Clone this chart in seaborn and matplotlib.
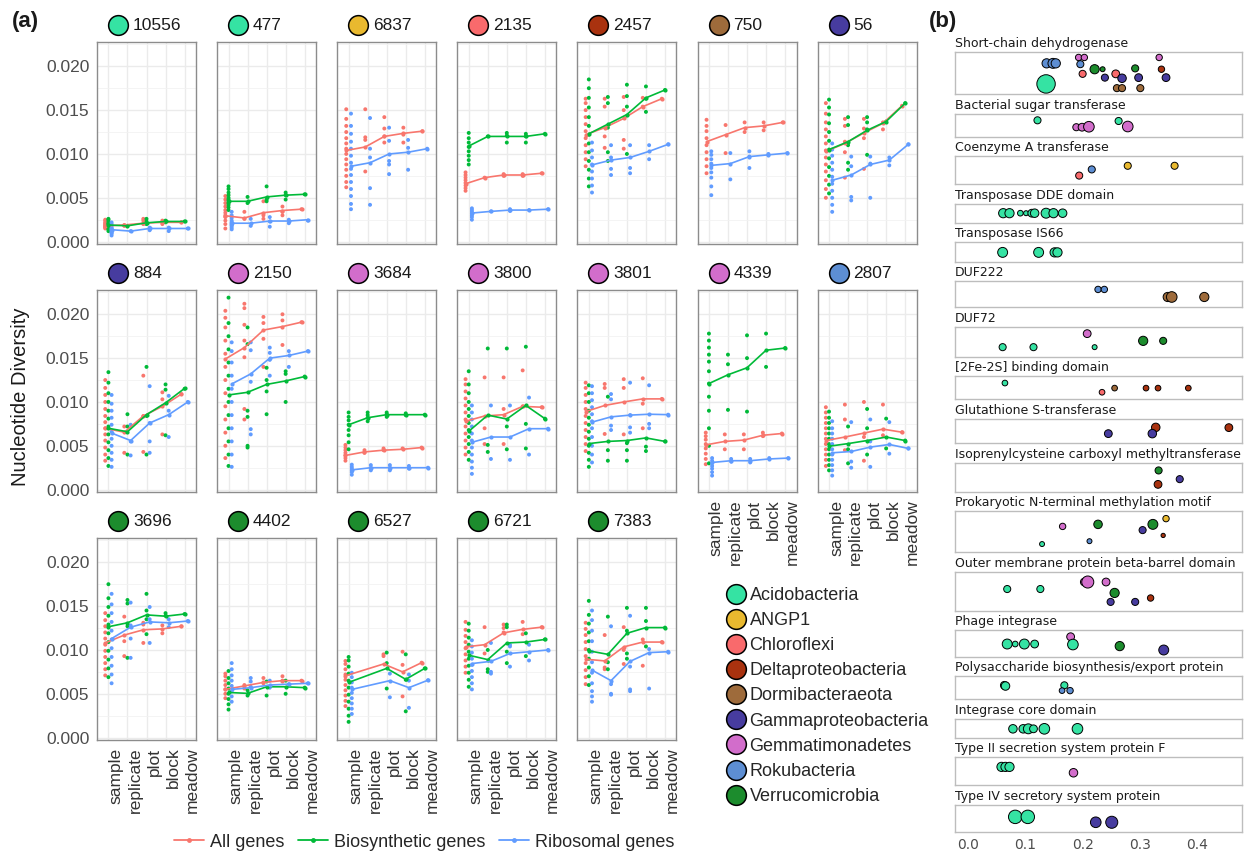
import matplotlib
matplotlib.use("Agg")
import matplotlib.pyplot as plt
from matplotlib.lines import Line2D
import numpy as np
import pandas as pd
import seaborn as sns

# ---------------- data: panel (a) ----------------
LEVELS = ["sample", "replicate", "plot", "block", "meadow"]
SERIES = ["All genes", "Biosynthetic genes", "Ribosomal genes"]
SERIES_COLORS = ["#F8766D", "#00BA38", "#619CFF"]

TAXA = ["Acidobacteria", "ANGP1", "Chloroflexi", "Deltaproteobacteria",
        "Dormibacteraeota", "Gammaproteobacteria", "Gemmatimonadetes",
        "Rokubacteria", "Verrucomicrobia"]
TAXA_COLORS = ["#35E3A3", "#E9B92F", "#F96A6C", "#A9320F", "#9E6B3B",
               "#473C9F", "#D26DCB", "#5D8ED3", "#1C8C2D"]

PANELS = ["10556", "477", "6837", "2135", "2457", "750", "56",
          "884", "2150", "3684", "3800", "3801", "4339", "2807",
          "3696", "4402", "6527", "6721", "7383"]
PANEL_TAXA = ["Acidobacteria", "Acidobacteria", "ANGP1", "Chloroflexi",
              "Deltaproteobacteria", "Dormibacteraeota", "Gammaproteobacteria",
              "Gammaproteobacteria", "Gemmatimonadetes", "Gemmatimonadetes",
              "Gemmatimonadetes", "Gemmatimonadetes", "Gemmatimonadetes",
              "Rokubacteria", "Verrucomicrobia", "Verrucomicrobia",
              "Verrucomicrobia", "Verrucomicrobia", "Verrucomicrobia"]

# mean nucleotide diversity (x 1e-3) per level: sample, replicate, plot, block, meadow
ALL_MEAN = [
    [1.8, 1.9, 2.1, 2.2, 2.2], [2.95, 2.7, 3.3, 3.55, 3.7],
    [10.4, 10.8, 12.0, 12.35, 12.6], [6.6, 7.3, 7.6, 7.6, 7.8],
    [12.2, 13.0, 14.05, 15.4, 16.3], [11.4, 12.2, 13.0, 13.2, 13.6],
    [10.3, 11.2, 12.4, 13.5, 15.5], [7.0, 6.55, 8.4, 9.5, 10.9],
    [14.9, 16.2, 18.2, 18.6, 19.1], [3.9, 4.3, 4.5, 4.6, 4.8],
    [7.8, 8.4, 8.55, 9.5, 9.4], [8.9, 9.6, 10.0, 10.35, 10.35],
    [5.1, 5.5, 5.65, 6.2, 6.4], [5.6, 6.0, 6.45, 6.9, 6.55],
    [10.8, 11.7, 12.3, 12.4, 12.7], [5.5, 5.9, 6.3, 6.5, 6.5],
    [7.05, None, 8.4, 7.5, 8.55], [10.35, 10.6, 11.95, 12.35, 12.6],
    [8.95, 8.75, 10.35, 10.9, 10.9],
]
BIO_MEAN = [
    [1.9, 1.8, 2.15, 2.3, 2.3], [4.6, 4.6, 5.1, 5.3, 5.4],
    None, [10.9, 12.0, 12.0, 12.0, 12.3],
    [12.3, 13.4, 14.5, 16.4, 17.3], None,
    [10.5, 11.4, 12.7, 13.7, 15.8], [7.0, 6.6, 8.55, 9.9, 11.55],
    [10.8, 11.1, 12.0, 12.4, 12.9], [7.4, 8.2, 8.55, 8.55, 8.55],
    [6.65, 8.5, 8.05, 9.6, 8.1], [5.25, 5.5, 5.6, 5.9, 5.5],
    [12.1, 13.1, 13.9, 15.9, 16.15], [4.95, 5.25, 5.6, 6.0, 5.6],
    [12.65, 13.1, 14.0, 13.85, 14.1], [5.15, 5.05, 5.8, 5.8, 5.7],
    [6.3, None, 7.9, 6.65, 7.9], [9.4, 8.9, 10.8, 10.9, 11.2],
    [9.9, 9.5, 11.9, 12.55, 12.55],
]
RIB_MEAN = [
    [1.36, 1.2, 1.5, 1.5, 1.5], [2.1, 2.1, 2.35, 2.35, 2.5],
    [8.6, 9.0, 10.0, 10.2, 10.6], [3.26, 3.45, 3.6, 3.6, 3.7],
    [8.75, 9.3, 9.6, 10.3, 11.1], [8.7, 8.9, 9.7, 9.9, 10.1],
    [7.0, 7.6, 8.8, 9.3, 11.1], [6.45, 5.6, 7.6, 8.55, 10.0],
    [12.05, 13.2, 15.0, 15.3, 15.8], [2.25, 2.5, 2.5, 2.5, 2.5],
    [5.4, 6.0, 6.0, 6.95, 6.95], [7.7, 8.3, 8.5, 8.6, 8.55],
    [3.1, 3.3, 3.3, 3.5, 3.6], [4.2, 4.35, 4.85, 5.15, 4.7],
    [11.3, 12.6, 13.2, 13.1, 13.3], [5.5, 5.7, 6.0, 6.1, 6.2],
    [5.5, None, 6.5, 5.7, 6.55], [8.45, 8.7, 9.6, 9.8, 10.0],
    [7.7, 6.5, 8.7, 9.7, 9.8],
]

# individual values (x 1e-3), levels separated by "|"
ALL_PTS = [
    "1.5 1.6 1.7 1.8 1.9 2.0 2.1 2.2 2.4 2.5|1.9 1.8|2.6 2.4 2.0|2.4 2.2 2.0|2.2",
    "1.5 2.0 2.4 2.8 3.0 3.3 3.6 4.0 4.4 4.8 5.2|3.4 2.6|3.0 2.6 4.6|4.0 3.0 3.4|3.7",
    "6.2 6.8 7.5 8.2 8.8 9.4 10.0 10.6 11.2 11.8 12.5 13.2 14.0 15.1|15.1 11.6 11.9 8.0|14.2 12.9 12.0 11.3|13.0 12.2 11.3|12.6",
    "5.8 6.1 6.4 6.7 7.0 7.3 7.6 7.9|7.3|7.7 7.5|7.7 7.5|7.8",
    "8.6 9.4 10.2 11.0 11.8 12.6 13.4 14.2 15.0 15.8 16.3|16.3 15.4 12.0 10.7|16.5 15.0 11.6 10.6|16.4 15.4|16.3",
    "7.8 8.6 9.4 10.2 11.0 11.8 12.6 13.2 13.9|13.3 10.1|13.6 12.5|13.6 12.7|13.6",
    "5.0 6.0 7.0 8.0 8.8 9.6 10.4 11.2 12.0 12.8 13.6 14.6 15.8|14.0 13.2 11.4 10.2 7.3|14.0 12.9 11.8 8.3|13.6 12.8|15.5",
    "3.3 4.0 4.8 5.6 6.3 7.0 7.7 8.4 9.2 10.0 10.8 11.6 12.5|7.2 4.2|13.0 8.4 4.3|11.1 10.3 6.3|10.9",
    "3.6 5.0 6.5 8.0 9.5 11.0 12.5 14.0 15.5 17.0 18.5 19.6 20.4|21.2 20.7 18.8 17.0 15.1 9.2 8.0|19.7 19.0 17.2 14.0|20.0 19.3 16.5|19.1",
    "3.3 3.6 3.9 4.2 4.5 4.8 5.1|4.5 4.2|4.7 4.5|4.7|4.8",
    "4.0 4.8 5.6 6.4 7.2 8.0 8.8 9.6 10.4 11.2 12.0 12.6|12.8 7.0 5.2|12.8 9.2 5.2|13.6 9.5|9.4",
    "4.4 5.2 6.0 6.8 7.6 8.4 9.2 10.0 10.8 11.6 12.2|12.05 11.6 6.35|12.6 11.6 6.3|12.7 9.8 7.0|10.35",
    "2.9 3.5 4.1 4.7 5.2 5.7 6.1 6.5|6.3 4.6|6.3 4.6|6.5 6.1|6.4",
    "2.7 3.4 4.0 4.6 5.2 5.8 6.4 7.0 7.6 8.2 8.8 9.4|9.7 8.0 4.5|10.0 6.0 3.3|9.7 6.2|6.55",
    "7.1 7.8 8.5 9.2 9.9 10.6 11.3 12.0 12.7 13.4 14.2|13.8 11.0 9.3|13.1 12.9 10.8|12.8 11.9|12.7",
    "4.5 5.0 5.5 6.0 6.5 7.0 7.3|6.0 5.6|6.8 6.2|7.0 6.5|6.5",
    "3.6 4.2 4.8 5.4 6.0 6.6 7.2 7.8 8.4 8.75||9.5 9.3|9.8 8.3 4.7|8.55",
    "7.4 8.1 8.8 9.5 10.2 10.9 11.6 12.3 13.2|12.6 9.6|12.9 12.5 12.0|13.2 11.8|12.6",
    "6.1 6.9 7.7 8.5 9.3 10.1 10.9 11.7 12.4 13.1|11.7 8.0 7.8|12.6 10.0 8.4|11.2 8.2|10.9",
]
BIO_PTS = [
    "1.2 1.4 1.5 1.7 1.8 1.9 2.0 2.1 2.3 2.5 2.6|1.8|2.6 2.3 2.0|2.4 2.2|2.3",
    "3.6 3.9 4.2 4.4 4.6 4.8 5.0 5.3 5.6 6.0 6.3|5.1 4.4|6.3 4.8 4.6|5.6 4.8 5.3|5.4",
    "",
    "8.8 9.3 9.8 10.3 10.8 11.3 11.8 12.4|12.0|12.4 12.1 11.3|12.3 12.0 11.3|12.3",
    "6.3 7.2 8.2 9.2 10.2 11.2 12.2 13.2 14.2 15.3 16.4 17.5 18.5|16.5 15.8 13.0 10.2 9.2|17.9 16.6 15.4 10.0|17.7 16.3 14.8|17.3",
    "",
    "5.5 6.5 7.5 8.5 9.5 10.5 11.5 12.5 13.5 14.5 15.3 16.2|14.2 13.3 11.0 8.2 9.0|14.2 13.6 12.8 9.9|13.7|15.8",
    "2.7 3.6 4.5 5.4 6.3 7.2 8.1 9.0 10.0 11.0 12.2 13.4|8.6 7.2 4.0|14.0 8.4 4.0|12.0 11.4 6.2|11.5",
    "2.7 4.0 5.5 7.0 8.5 10.0 11.5 13.0 14.5 16.0 17.5 19.0 21.9|18.5 16.6 9.0 8.3 5.0 4.8|13.9 12.5 11.2 8.6|13.5 13.2 10.0|12.9",
    "4.6 5.4 6.2 6.8 7.4 7.9 8.3 8.8|8.8 8.5 8.2 7.8|8.8 8.6 8.3|8.7 8.5|8.55",
    "3.4 4.3 5.2 6.0 6.8 7.6 8.4 9.2 10.0 11.0 12.0 13.5|16.1 5.1 4.3|16.1 7.2 4.6|16.3 7.5 4.7|8.1",
    "2.6 3.4 4.2 5.0 5.8 6.6 7.4 8.2 9.0 10.0 11.0 11.9|10.6 4.5 3.3|5.3 4.5 3.3|4.9 4.4|5.5",
    "3.0 5.0 7.0 9.0 10.6 12.1 13.5 14.6 15.4 16.2 17.0 17.8|15.4 14.3 9.1|17.6 15.0 8.9|17.8 14.0|16.15",
    "2.2 2.8 3.4 4.0 4.6 5.2 5.8 6.4 7.0 7.6 8.2 8.9|7.2 4.6 3.0|9.2 7.0 4.0|8.1 4.7|5.6",
    "6.9 7.9 8.9 9.9 10.9 11.9 12.9 13.9 14.9 15.9 17.5|15.7 15.3 12.7 9.1|16.4 14.5 13.5 11.8|14.2 13.9|14.1",
    "3.2 3.8 4.4 5.0 5.6 6.2 6.8 7.6|5.4 4.8|6.4 4.8|6.5 5.0|5.7",
    "1.8 2.5 3.3 4.1 4.9 5.7 6.5 7.3 8.1 8.8 9.2||9.7 8.5 5.6|9.5 6.6 3.0|7.9",
    "5.8 6.6 7.4 8.2 9.0 9.8 10.6 11.4 12.2 13.0|10.0 7.5 7.8|12.9 12.6 9.8 8.5|11.9 9.3|11.2",
    "6.0 7.0 8.0 9.0 10.0 11.0 12.0 13.0 14.0 15.6|13.8 8.6 7.8|14.8 12.2 9.6 9.0|14.8 13.3 10.4|12.55",
]
RIB_PTS = [
    "0.7 0.9 1.0 1.1 1.2 1.3 1.4 1.5 1.6 1.8 2.0 2.2|1.2|1.6 1.4 1.3|1.6 1.2|1.5",
    "1.4 1.6 1.8 1.9 2.0 2.1 2.2 2.4 2.7 3.0 3.4|2.6 1.8|2.8 1.7 2.3|2.5 2.1|2.4",
    "3.7 4.3 5.2 6.0 6.8 7.6 8.3 9.0 9.8 10.6 11.4 12.3 13.2 14.6|14.1 10.6 9.6 6.1 4.2|13.0 11.5 9.2 8.8 7.7|11.6 10.7 8.2|10.6",
    "2.5 2.8 3.0 3.2 3.4 3.6 3.8|3.45|3.7 3.5|3.6|3.7",
    "5.6 6.4 7.2 8.0 8.8 9.6 10.4 11.3|9.6 8.3 7.6 11.0|11.0 8.4 7.8|11.0 9.4|11.1",
    "5.3 6.3 7.3 7.9 8.4 8.9 9.4 9.9 10.3|10.1 7.1|10.3 9.7 8.4|10.0 9.9|10.1",
    "3.4 4.2 5.0 5.8 6.6 7.4 8.2 9.0 9.8 10.5 11.2|9.7 8.6 5.1 4.7|9.7 8.9 5.0|9.6 8.7|11.1",
    "2.6 3.4 4.2 5.0 5.8 6.6 7.4 8.2 9.0 9.8 10.8|7.4 5.5 3.9|11.8 7.6 5.5 4.2|10.7 9.0 6.0|10.0",
    "2.6 4.0 5.5 7.0 8.5 10.0 11.5 13.0 14.5 15.8 16.8|16.8 15.9 12.3 6.9 6.3|16.2 15.6 14.8 13.0|15.8 14.0|15.8",
    "1.7 2.0 2.2 2.4 2.6 2.85|2.8 2.5 2.2|2.8 2.5 2.2|2.7 2.4|2.5",
    "1.8 2.5 3.2 4.0 4.8 5.6 6.4 7.2 8.0 8.8 9.6|9.6 3.5|9.6 3.4|10.5 4.0|6.95",
    "3.1 4.0 5.0 6.0 7.0 7.8 8.6 9.4 10.2 11.0 11.8|10.9 10.3 6.8 7.3|12.2 8.5 7.1 6.5|11.9 7.5 7.0|8.55",
    "1.6 2.0 2.4 2.7 3.0 3.3 3.6|3.5 3.2|3.5 3.1|3.6|3.6",
    "1.6 2.2 2.8 3.4 4.0 4.6 5.2 5.8 6.4 7.0 7.8|7.7 2.5 3.2|8.0 5.5 2.6|7.7 4.1|4.7",
    "6.2 7.2 8.2 9.2 10.2 11.2 12.2 13.2 14.2 15.2 16.4|15.4 12.8 11.3 9.1|14.9 13.5 10.8|13.5 12.6|13.3",
    "4.1 4.7 5.3 5.9 6.5 7.1 7.8 8.5|6.8 6.4 5.8|6.5 5.7|6.1|6.2",
    "2.7 3.3 3.9 4.5 5.1 5.7 6.3 6.9 7.4||7.3 4.6|7.2 6.5 3.4|6.55",
    "5.5 6.2 6.9 7.6 8.3 9.0 9.7 10.4 11.1|10.8 7.5 7.3|10.6 10.4 8.1|10.6 8.8|10.0",
    "4.1 4.7 5.3 6.2 7.4 8.6 9.8 11.0 12.2 13.4 14.5|12.7 6.1 5.0 4.9|13.9 8.1 5.5 5.3|10.1 5.6|9.8",
]

# ---------------- data: panel (b) ----------------
DOMAINS = ["Short-chain dehydrogenase", "Bacterial sugar transferase",
           "Coenzyme A transferase", "Transposase DDE domain",
           "Transposase IS66", "DUF222", "DUF72", "[2Fe-2S] binding domain",
           "Glutathione S-transferase",
           "Isoprenylcysteine carboxyl methyltransferase",
           "Prokaryotic N-terminal methylation motif",
           "Outer membrane protein beta-barrel domain", "Phage integrase",
           "Polysaccharide biosynthesis/export protein", "Integrase core domain",
           "Type II secretion system protein F", "Type IV secretory system protein"]
TAXON_CODES = {"Ac": "Acidobacteria", "AN": "ANGP1", "Ch": "Chloroflexi",
               "De": "Deltaproteobacteria", "Do": "Dormibacteraeota",
               "Ga": "Gammaproteobacteria", "Ge": "Gemmatimonadetes",
               "Ro": "Rokubacteria", "Ve": "Verrucomicrobia"}
# taxon, value, offset within row, point size
DOMAIN_POINTS = [
    "Ro .137 .73 26; Ro .148 .73 28; Ro .153 .73 26; Ac .136 .24 52; Ge .193 .87 18; Ge .203 .87 18; Ro .196 .71 20; Ch .200 .48 20; Ve .221 .59 26; Ve .235 .59 14; Ga .239 .39 20; Ch .258 .48 22; Ga .269 .375 24; Do .260 .14 20; Do .269 .14 20; Ve .292 .61 20; Ga .298 .39 22; Do .301 .14 20; Ge .334 .87 18; De .338 .59 18; Ga .346 .39 22",
    "Ac .121 .71 20; Ge .189 .41 20; Ge .199 .41 22; Ge .211 .43 30; Ac .263 .68 20; Ge .279 .44 30",
    "Ch .194 .31 20; Ro .216 .53 20; AN .279 .66 20; AN .361 .66 20",
    "Ac .061 .51 26; Ac .072 .51 26; Ac .091 .51 16; Ac .101 .51 14; Ac .111 .51 22; Ac .116 .51 24; Ac .136 .51 28; Ac .149 .51 26; Ac .165 .51 24",
    "Ac .060 .48 28; Ac .123 .48 28; Ac .151 .48 26; Ac .156 .48 26",
    "Ro .227 .68 18; Ro .238 .68 18; Do .349 .39 26; Do .356 .39 30; Do .413 .39 26",
    "Ac .060 .32 20; Ac .114 .32 20; Ge .208 .77 22; Ac .221 .32 14; Ve .306 .53 26; Ve .341 .53 20",
    "Ac .064 .71 16; Ch .234 .31 16; Do .256 .49 16; De .311 .49 16; De .332 .49 16; De .385 .49 16",
    "Ga .245 .39 22; De .328 .65 24; Ga .322 .39 24; De .456 .64 22",
    "Ve .333 .73 20; De .332 .25 22; Ga .370 .43 20",
    "Ac .129 .20 14; Ge .165 .63 18; Ro .212 .27 14; Ve .227 .68 24; Ga .305 .54 20; Ve .323 .68 28; AN .346 .82 18; De .341 .41 12",
    "Ac .068 .56 20; Ac .126 .56 20; Ge .203 .74 22; Ge .209 .74 34; Ge .241 .74 22; Ve .256 .46 26; Ga .249 .23 20; Ga .292 .23 20; De .319 .33 18",
    "Ac .068 .48 28; Ac .082 .48 16; Ac .098 .48 28; Ac .116 .48 22; Ge .179 .76 22; Ac .183 .46 30; Ve .265 .40 26; Ga .342 .25 28",
    "Ac .063 .60 22; Ac .065 .57 24; Ac .168 .60 20; Ro .164 .37 16; Ro .178 .37 18",
    "Ac .078 .47 24; Ac .096 .47 24; Ac .105 .47 28; Ac .114 .47 22; Ac .133 .47 30; Ac .191 .47 30",
    "Ac .058 .66 26; Ac .065 .66 26; Ac .072 .66 26; Ge .184 .45 24",
    "Ac .082 .56 38; Ac .104 .56 38; Ga .223 .36 30; Ga .251 .36 34",
]
DOMAIN_SPACE = [42, 23, 28, 19, 19, 26, 30, 23, 24, 29, 41, 39, 26, 23, 19, 28, 27]

# ---------------- build tables ----------------
pts_rows, mean_rows = [], []
for i, panel in enumerate(PANELS):
    per_series = [(SERIES[0], ALL_PTS[i], ALL_MEAN[i]),
                  (SERIES[1], BIO_PTS[i], BIO_MEAN[i]),
                  (SERIES[2], RIB_PTS[i], RIB_MEAN[i])]
    present = [s for s in per_series if s[2] is not None]
    n = len(present)
    width = 0.5
    offsets = [-width / 2 + width / (2 * n) + k * width / n for k in range(n)]
    for (name, pts, means), off in zip(present, offsets):
        for lev, chunk in enumerate(pts.split("|")):
            for v in chunk.split():
                pts_rows.append({"panel": panel, "series": name,
                                 "x": lev + off, "value": float(v) * 1e-3})
        for lev, m in enumerate(means):
            if m is not None:
                mean_rows.append({"panel": panel, "series": name,
                                  "x": lev + off, "value": m * 1e-3})
pts_df = pd.DataFrame(pts_rows)
mean_df = pd.DataFrame(mean_rows)

b_rows = []
for dom, s in zip(DOMAINS, DOMAIN_POINTS):
    for item in s.split(";"):
        code, xv, yv, sz = item.split()
        b_rows.append({"domain": dom, "taxon": TAXON_CODES[code],
                       "x": float(xv), "y": float(yv), "size": float(sz)})
b_df = pd.DataFrame(b_rows)

series_pal = dict(zip(SERIES, SERIES_COLORS))
taxa_pal = dict(zip(TAXA, TAXA_COLORS))
size_map = {d: (d * 0.255) ** 2 for d in sorted(b_df["size"].unique())}

# ---------------- figure ----------------
sns.set_style("whitegrid")
plt.rcParams["font.family"] = ["Liberation Sans", "DejaVu Sans"]
W, H = 1250, 855
fig = plt.figure(figsize=(W / 100, H / 100), dpi=100)

def fx(px):
    return px / W

def fy(py):
    return 1 - py / H

col_left = [97 + 120.1 * c for c in range(7)]
row_top = [42, 290, 538]
pw, ph = 99, 202
grid_pos = [(r, c) for r in range(2) for c in range(7)] + [(2, c) for c in range(5)]
show_x = {(2, c) for c in range(5)} | {(1, 5), (1, 6)}

for i, panel in enumerate(PANELS):
    r, c = grid_pos[i]
    ax = fig.add_axes([fx(col_left[c]), fy(row_top[r] + ph), fx(pw), ph / H])
    sub_p = pts_df[pts_df.panel == panel]
    sub_m = mean_df[mean_df.panel == panel]
    sns.scatterplot(data=sub_p, x="x", y="value", hue="series", hue_order=SERIES,
                    palette=series_pal, s=8, linewidth=0, legend=False, ax=ax, zorder=3)
    sns.lineplot(data=sub_m, x="x", y="value", hue="series", hue_order=SERIES,
                 palette=series_pal, estimator=None, lw=1.2, marker="o",
                 markersize=3, markeredgewidth=0, legend=False, ax=ax, zorder=4)
    ax.set_xlim(-0.6, 4.6)
    ax.set_ylim(-0.00027, 0.02277)
    ax.set_xticks(range(5))
    ax.set_yticks([0, 0.005, 0.01, 0.015, 0.02])
    ax.set_yticks([0.0025, 0.0075, 0.0125, 0.0175, 0.0225], minor=True)
    ax.grid(True, which="major", color="#EBEBEB", lw=1.0)
    ax.grid(True, which="minor", axis="y", color="#F2F2F2", lw=0.6)
    ax.set_axisbelow(True)
    ax.set_xlabel("")
    ax.set_ylabel("")
    for sp in ax.spines.values():
        sp.set_color("#8C8C8C")
        sp.set_linewidth(1.0)
    ax.tick_params(which="minor", length=0)
    ax.tick_params(which="major", length=3.5, width=0.8, color="#333333",
                   labelsize=12.5, labelcolor="#4D4D4D", pad=2)
    if c == 0:
        ax.set_yticklabels(["0.000", "0.005", "0.010", "0.015", "0.020"])
    else:
        ax.tick_params(axis="y", left=False, labelleft=False)
    if (r, c) in show_x:
        ax.set_xticklabels(LEVELS, rotation=90, ha="left", va="top", color="#333333")
    else:
        ax.tick_params(axis="x", bottom=False, labelbottom=False)
    # strip: taxon circle + id
    ax.plot([21 / pw], [1 + 17 / ph], "o", transform=ax.transAxes, clip_on=False,
            ms=14.2, mfc=taxa_pal[PANEL_TAXA[i]], mec="black", mew=1.1)
    ax.text(36 / pw, 1 + 17 / ph, panel, transform=ax.transAxes, ha="left",
            va="center", fontsize=12.5, color="#1A1A1A")

fig.text(fx(21), fy(397), "Nucleotide Diversity", rotation=90, ha="center",
         va="center", fontsize=14.5, color="#1A1A1A")
fig.text(fx(12), fy(21), "(a)", ha="left", va="center", fontsize=16,
         fontweight="bold", color="#1A1A1A")
fig.text(fx(929), fy(21), "(b)", ha="left", va="center", fontsize=16,
         fontweight="bold", color="#1A1A1A")

# series legend
line_handles = [Line2D([0], [0], color=col, lw=1.3, marker="o", ms=3.5, mew=0)
                for col in SERIES_COLORS]
fig.legend(line_handles, SERIES, loc="center", bbox_to_anchor=(fx(424), fy(842)),
           ncol=3, frameon=False, fontsize=13, handlelength=1.7,
           handletextpad=0.3, columnspacing=0.75)

# taxon legend
taxa_handles = [Line2D([0], [0], ls="", marker="o", ms=14.2, mfc=col,
                       mec="black", mew=1.1) for col in TAXA_COLORS]
fig.legend(taxa_handles, TAXA, loc="upper left", bbox_to_anchor=(fx(727), fy(587)),
           frameon=False, fontsize=13, handlelength=1.0, handletextpad=0.25,
           labelspacing=0.45, borderpad=0, borderaxespad=0)

# ---------------- panel (b) ----------------
gs = fig.add_gridspec(len(DOMAINS), 1, left=fx(955), right=fx(1242), top=fy(52),
                      bottom=fy(832), height_ratios=DOMAIN_SPACE, hspace=0.715)
for j, dom in enumerate(DOMAINS):
    ax = fig.add_subplot(gs[j, 0])
    sub = b_df[b_df.domain == dom]
    sns.scatterplot(data=sub, x="x", y="y", hue="taxon", palette=taxa_pal,
                    size="size", sizes=size_map, edgecolor="black", linewidth=0.7,
                    legend=False, ax=ax, zorder=3)
    ax.set_xlim(-0.0234, 0.479)
    ax.set_ylim(0, 1)
    ax.grid(False)
    ax.set_facecolor("white")
    ax.set_xlabel("")
    ax.set_ylabel("")
    ax.set_yticks([])
    for sp in ax.spines.values():
        sp.set_color("#BDBDBD")
        sp.set_linewidth(1.0)
    ax.annotate(dom, xy=(0, 1), xycoords="axes fraction", xytext=(0, 1.5),
                textcoords="offset points", ha="left", va="bottom",
                fontsize=9, family="DejaVu Sans", color="#1A1A1A")
    ax.set_xticks([0, 0.1, 0.2, 0.3, 0.4])
    if j == len(DOMAINS) - 1:
        ax.set_xticklabels(["0.0", "0.1", "0.2", "0.3", "0.4"], family="DejaVu Sans")
        ax.tick_params(axis="x", length=2.5, color="#BDBDBD", labelsize=10,
                       labelcolor="#4D4D4D", pad=2)
    else:
        ax.tick_params(axis="x", bottom=False, labelbottom=False)

fig.savefig("out.png", dpi=100)
